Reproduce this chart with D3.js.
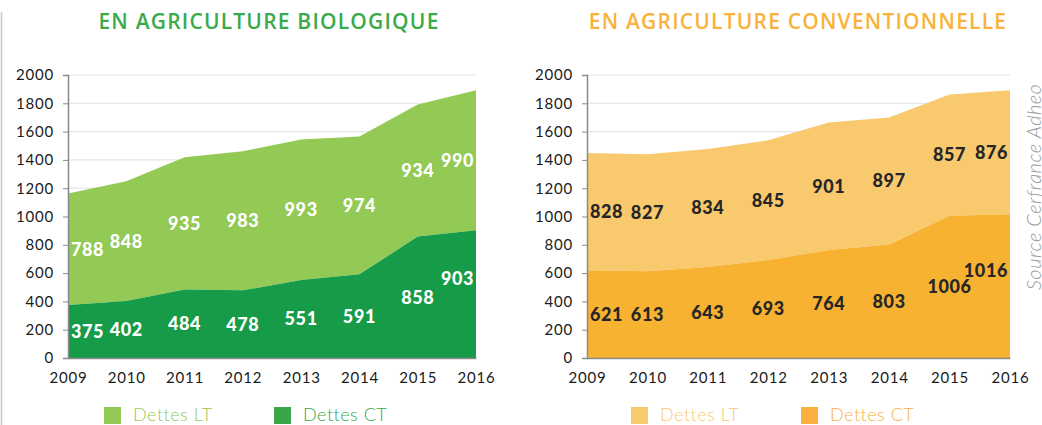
<!DOCTYPE html>
<html>
<head>
<meta charset="utf-8">
<script src="https://cdn.jsdelivr.net/npm/d3@7"></script>
<style>
  body { margin: 0; background: #fff; }
  svg { display: block; }
</style>
</head>
<body>
<script>
var years = [2009, 2010, 2011, 2012, 2013, 2014, 2015, 2016];
var yTicks = [0, 200, 400, 600, 800, 1000, 1200, 1400, 1600, 1800, 2000];

var bioCT = [375, 402, 484, 478, 551, 591, 858, 903];
var bioLT = [788, 848, 935, 983, 993, 974, 934, 990];
var convCT = [621, 613, 643, 693, 764, 803, 1006, 1016];
var convLT = [828, 827, 834, 845, 901, 897, 857, 876];

var seriesNames = ["Dettes LT", "Dettes CT"];

var W = 1042, H = 425;

var svg = d3.select("body").append("svg")
	.attr("width", W)
	.attr("height", H)
;

// thin frame on the left edge
svg.append("line")
	.attr("x1", 1.5).attr("x2", 1.5)
	.attr("y1", 12).attr("y2", H)
	.style("stroke", "#c8c8c8")
	.style("stroke-width", 1.5)
;

var y = d3.scaleLinear().domain([0, 2000]).range([358, 75]);

function drawPanel(opt){
	var x = d3.scaleLinear().domain([2009, 2016]).range([opt.x0, opt.x1]);
	var g = svg.append("g");

	var rows = years.map(function(yr, i){
		return { year: yr, ct: opt.ct[i], lt: opt.lt[i] };
	});

	// title
	g.append("text")
		.attr("x", opt.titleX)
		.attr("y", 29)
		.attr("text-anchor", "middle")
		.attr("font-family", "Open Sans")
		.style("font-weight", 600)
		.attr("font-size", 21)
		.style("letter-spacing", "1.2px")
		.attr("fill", opt.titleColor)
		.text(opt.title)
	;

	// grid
	g.selectAll(".grid")
		.data(yTicks.filter(function(d){ return d > 0; }))
		.enter().append("line")
			.attr("x1", opt.x0).attr("x2", opt.x1)
			.attr("y1", function(d){ return y(d); })
			.attr("y2", function(d){ return y(d); })
			.style("stroke", "#e6e6e6")
			.style("stroke-width", 1.2)
	;

	var areaLT = d3.area()
		.x(function(d){ return x(d.year); })
		.y0(function(d){ return y(d.ct); })
		.y1(function(d){ return y(d.ct + d.lt); });
	var areaCT = d3.area()
		.x(function(d){ return x(d.year); })
		.y0(y(0))
		.y1(function(d){ return y(d.ct); });

	g.append("path").datum(rows).attr("d", areaLT).style("fill", opt.colLT);
	g.append("path").datum(rows).attr("d", areaCT).style("fill", opt.colCT);

	// y axis
	var ya = g.append("g")
		.attr("transform", "translate(" + opt.x0 + ",0)")
		.call(d3.axisLeft(y).tickValues(yTicks).tickFormat(d3.format("d")).tickSize(5).tickPadding(9));
	// x axis
	var xa = g.append("g")
		.attr("transform", "translate(0," + y(0) + ")")
		.call(d3.axisBottom(x).tickValues(years).tickFormat(d3.format("d")).tickSize(0).tickPadding(14));
	[ya, xa].forEach(function(a){
		a.select(".domain").style("stroke", "#8a8a8a").style("stroke-width", 1.5);
		a.selectAll(".tick line").style("stroke", "#8a8a8a");
		a.selectAll("text")
			.attr("font-family", "Lato")
			.attr("font-size", 15)
			.style("letter-spacing", "0.8px")
			.attr("fill", "#1a1a1a");
	});

	// value labels, centred in their band; the last CT label is lifted when it crowds its neighbour
	function labels(acc, mid, lift){
		var sel = g.selectAll(null)
			.data(rows)
			.enter().append("text")
				.attr("font-family", "Lato")
				.style("font-weight", 900)
				.attr("font-size", 18)
				.style("letter-spacing", "0.6px")
				.attr("fill", opt.labelColor)
				.attr("text-anchor", "middle")
				.attr("dy", "0.36em")
				.text(function(d){ return acc(d); })
				.attr("x", function(d){
					var w = this.getComputedTextLength() / 2;
					return Math.max(opt.x0 + 3 + w, Math.min(opt.x1 - 2 - w, x(d.year)));
				})
				.attr("y", function(d, i){
					return y(mid(d)) - (lift && i === rows.length - 1 ? 16 : 0);
				})
		;
	}
	labels(function(d){ return d.lt; }, function(d){ return d.ct + d.lt / 2; }, false);
	labels(function(d){ return d.ct; }, function(d){ return d.ct / 2; }, true);

	// legend
	var leg = g.selectAll(".leg")
		.data(seriesNames)
		.enter().append("g")
			.attr("transform", function(d, i){ return "translate(" + (opt.legX + i * 170) + ",407)"; });
	leg.append("rect")
		.attr("width", 17).attr("height", 17)
		.style("fill", function(d, i){ return i === 0 ? opt.colLT : opt.legCT; });
	leg.append("text")
		.attr("x", 29).attr("y", 14)
		.attr("font-family", "Lato")
		.style("font-weight", 300)
		.attr("font-size", 18)
		.style("letter-spacing", "0.5px")
		.attr("fill", function(d, i){ return i === 0 ? opt.legTxtLT : opt.legTxtCT; })
		.text(function(d){ return d; });
}

drawPanel({
	x0: 68, x1: 476, titleX: 269,
	title: "EN AGRICULTURE BIOLOGIQUE", titleColor: "#3aaa4a",
	ct: bioCT, lt: bioLT,
	colLT: "#93c955", colCT: "#169b48", legCT: "#3aa648",
	legTxtLT: "#93c955", legTxtCT: "#3aa648",
	labelColor: "#ffffff", legX: 104
});

drawPanel({
	x0: 587, x1: 1010, titleX: 798,
	title: "EN AGRICULTURE CONVENTIONNELLE", titleColor: "#f9b23a",
	ct: convCT, lt: convLT,
	colLT: "#f9c96e", colCT: "#f7b232", legCT: "#fbaf3f",
	legTxtLT: "#fcca73", legTxtCT: "#fbaf3f",
	labelColor: "#262626", legX: 631
});

svg.append("text")
	.attr("transform", "translate(1041,290)rotate(-90)")
	.attr("font-family", "Lato")
	.style("font-style", "italic")
	.style("font-weight", 300)
	.attr("font-size", 20)
	.style("letter-spacing", "0.5px")
	.attr("fill", "#9a9a9a")
	.text("Source Cerfrance Adheo")
;
</script>
</body>
</html>
